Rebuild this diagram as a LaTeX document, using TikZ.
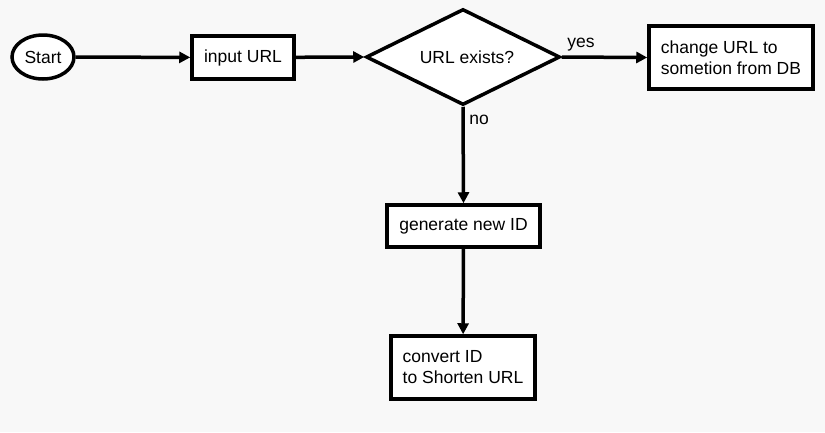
\documentclass[tikz,border=0pt]{standalone}
\usepackage{fontspec}
\setmainfont{Liberation Sans}
\usetikzlibrary{shapes.geometric,arrows.meta}
\definecolor{bg}{HTML}{F8F8F8}
\begin{document}
\begin{tikzpicture}[x=1pt,y=-1pt,
  every node/.style={font=\fontsize{17.5}{21}\selectfont, text=black},
  box/.style={draw=black, fill=white, line width=3.5pt, rectangle, inner sep=0pt, align=left},
  term/.style={draw=black, fill=white, line width=3.5pt, ellipse, inner sep=0pt},
  dec/.style={draw=black, fill=white, line width=3.5pt, diamond, inner sep=0pt},
  arr/.style={line width=3.5pt, -{Triangle[length=11pt,width=11pt]}},
  lbl/.style={inner sep=0pt}]
\fill[bg] (0,0) rectangle (825,432);
\useasboundingbox (0,0) rectangle (825,432);
\node[term, minimum width=62pt, minimum height=44pt] (start) at (43,57) {Start};
\node[box, minimum width=102pt, minimum height=43pt] (input) at (243,57.5) {input URL};
\node[dec, minimum width=194pt, minimum height=96pt] (dia) at (463,57) {};
\node[lbl] (diatext) at (467,57) {URL exists?};
\node[box, minimum width=164pt, minimum height=63pt] (chg) at (731,57.5) {change URL to\\sometion from DB};
\node[box, minimum width=153pt, minimum height=42pt] (gen) at (463.5,226) {generate new ID};
\node[box, minimum width=144pt, minimum height=63pt] (conv) at (463,367.5) {convert ID\\to Shorten URL};
\node[lbl] (yes) at (581,45) {yes};
\node[lbl] (no) at (479,120) {no};
\draw[arr] (start) -- (input);
\draw[arr] (input) -- (dia.west);
\draw[arr] (dia.east) -- (chg.west);
\draw[arr] (dia.south) -- (gen.north);
\draw[arr] (gen) -- (conv);
\end{tikzpicture}
\end{document}
